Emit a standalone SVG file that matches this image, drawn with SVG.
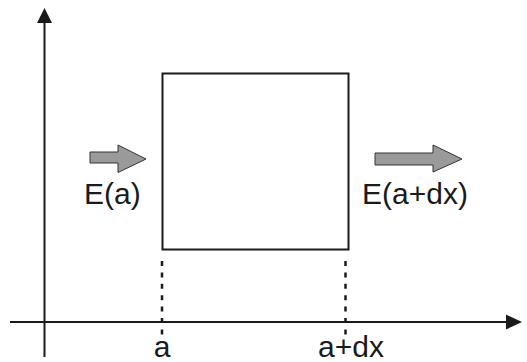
<svg xmlns="http://www.w3.org/2000/svg" width="527" height="362" viewBox="0 0 527 362">
<style>
.ax{stroke:#1a1a1a;stroke-width:2;fill:none}
.box{stroke:#1a1a1a;stroke-width:2;fill:none}
.dash{stroke:#1a1a1a;stroke-width:2.5;stroke-dasharray:5 6.4;fill:none}
.flow{fill:#9a9a9a;stroke:#333;stroke-width:1}
text{font-family:"Liberation Sans",Arial,sans-serif;font-size:30px;fill:#1a1a1a}
</style>
<g id="connectors">
<line class="ax" x1="44.5" y1="357" x2="44.5" y2="22"/>
<path d="M37,23 L44.5,8 L52,23 z" fill="#1a1a1a"/>
<line class="ax" x1="10" y1="322" x2="507" y2="322"/>
<path d="M506,314.5 L522,322 L506,329.5 z" fill="#1a1a1a"/>
<line class="dash" x1="162" y1="261" x2="162" y2="336"/>
<line class="dash" x1="345.5" y1="261" x2="345.5" y2="336"/>
</g>
<g id="box">
<rect class="box" x="162.5" y="73.5" width="186" height="176"/>
</g>
<g id="flow-in">
<path class="flow" d="M90,152 L118,152 L118,145 L146,159 L118,172.5 L118,163 L90,163 z"/>
<text x="84" y="203.5">E(a)</text>
</g>
<g id="flow-out">
<path class="flow" d="M375,153 L433,153 L433,145 L462,159 L433,172 L433,165 L375,165 z"/>
<text x="362" y="204">E(a+dx)</text>
</g>
<g id="labels">
<text x="162" y="357" text-anchor="middle">a</text>
<text x="351" y="357" text-anchor="middle">a+dx</text>
</g>
</svg>
